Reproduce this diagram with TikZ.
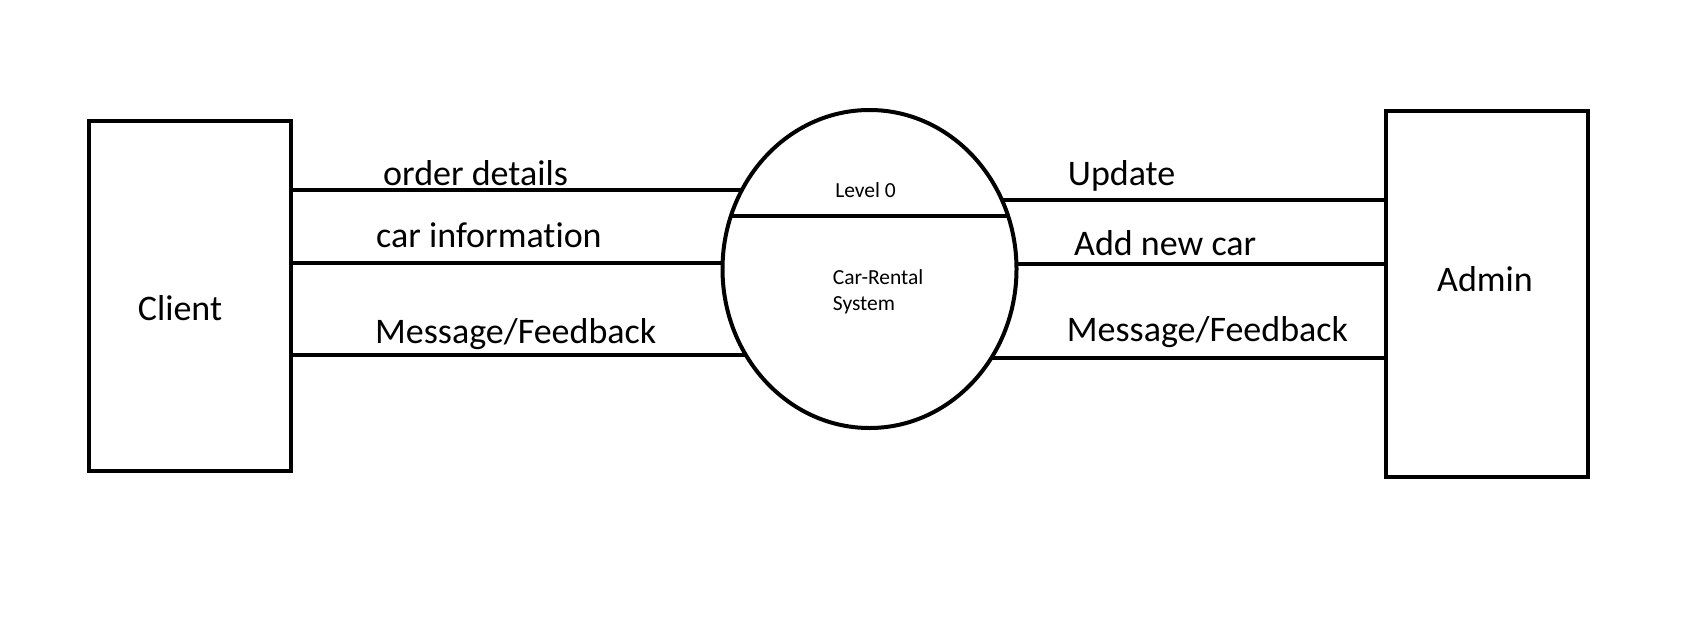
\documentclass[tikz,border=0pt]{standalone}
\usepackage{fontspec}
\setmainfont{Carlito}[Ligatures=NoCommon]
\usetikzlibrary{shapes.geometric}
\begin{document}
\begin{tikzpicture}[x=1pt,y=-1pt,
  entity/.style={draw, rectangle, inner sep=0pt, outer sep=0pt, line width=4pt},
  proc/.style={draw, ellipse, inner sep=0pt, outer sep=0pt, line width=4pt,
    minimum width=294pt, minimum height=318pt},
  big/.style={inner sep=0pt, font=\fontsize{36}{43}\selectfont},
  small/.style={inner sep=0pt, font=\fontsize{21.5}{26.4}\selectfont},
  flow/.style={line width=4pt}]
\useasboundingbox (0,0) rectangle (1688,632);
\fill[white] (0,0) rectangle (1688,632);

\node[entity, minimum width=202pt, minimum height=350pt] (client) at (189.6,295.7) {};
\node[entity, minimum width=202pt, minimum height=366.6pt] (admin) at (1487,294) {};
\node[proc] (sys) at (869.5,269) {};

\node[big, anchor=base] (clienttxt) at (180,320) {Client};
\node[big, anchor=base] (admintxt) at (1485,291) {Admin};

\node[small, anchor=base] (lvl) at (865.5,197.3) {Level 0};
\node[small, anchor=base west] (crs) at (832.7,284.3) {Car-Rental};
\node[small, anchor=base west] (crs2) at (832.7,310.7) {System};

% points on the process border
\coordinate (dl) at ([shift={(-138.6,-53)}]sys.center);
\coordinate (dr) at ([shift={(138.6,-53)}]sys.center);
\coordinate (pl1) at ([shift={(-127.7,-78.7)}]sys.center);
\coordinate (pl2) at ([shift={(-146.9,-5.7)}]sys.center);
\coordinate (pl3) at ([shift={(-123.5,86.3)}]sys.center);
\coordinate (pr1) at ([shift={(132.4,-69)}]sys.center);
\coordinate (pr2) at ([shift={(146.9,-4.7)}]sys.center);
\coordinate (pr3) at ([shift={(121.6,89.3)}]sys.center);

% divider
\draw[flow] (dl) -- (dr);

% left flows
\draw[flow] (client.east |- pl1) -- (pl1);
\draw[flow] (client.east |- pl2) -- (pl2);
\draw[flow] (client.east |- pl3) -- (pl3);

% right flows
\draw[flow] (pr1) -- (admin.west |- pr1);
\draw[flow] (pr2) -- (admin.west |- pr2);
\draw[flow] (pr3) -- (admin.west |- pr3);

% labels
\node[big, anchor=base west] (l1) at (383,185) {order details};
\node[big, anchor=base west] (l2) at (376,247.7) {car information};
\node[big, anchor=base west] (l3) at (375,343.3) {Message/Feedback};
\node[big, anchor=base west] (r1) at (1067.7,185) {Update};
\node[big, anchor=base west] (r2) at (1074,255) {Add new car};
\node[big, anchor=base west] (r3) at (1066.7,341.7) {Message/Feedback};
\end{tikzpicture}
\end{document}
